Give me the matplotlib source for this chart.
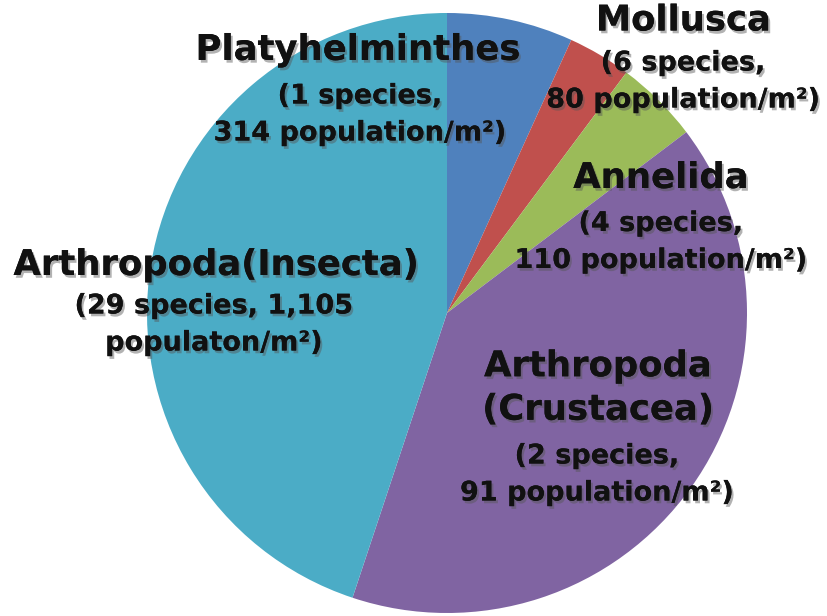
import numpy as np
import matplotlib.pyplot as plt
import matplotlib.patheffects as pe

# slice shares (percent of the circle), clockwise from 12 o'clock
phyla = ['Platyhelminthes', 'Mollusca', 'Annelida', 'Arthropoda\n(Crustacea)', 'Arthropoda(Insecta)']
shares = [6.8, 3.4, 4.5, 40.4, 44.9]
species = [1, 6, 4, 2, 29]
population = ['314', '80', '110', '91', '1,105']
colors = ['#4F81BD', '#C0504D', '#9BBB59', '#8064A2', '#4BACC6']

sub_texts = ['({0} species,\n{1} population/m\u00b2)'.format(species[i], population[i]) for i in range(4)]
sub_texts.append('({0} species, {1}\npopulaton/m\u00b2)'.format(species[4], population[4]))

"""
Label layout, in units of the pie radius (pie centred at 0,0)
"""
title_pos = [(-0.297, 0.877), (0.787, 0.975), (0.713, 0.45), (0.503, -0.25), (-0.77, 0.16)]
sub_pos = [(-0.29, 0.66), (0.787, 0.77), (0.713, 0.235), (0.5, -0.54), (-0.777, -0.04)]

fig = plt.figure(figsize=(8.27, 6.16), dpi=100)
ax = fig.add_axes([0, 0, 1, 1])
ax.pie(shares, colors=colors, startangle=90, counterclock=False, radius=1,
       wedgeprops={'linewidth': 0})
ax.set_xlim(-447/300, (827-447)/300)
ax.set_ylim((313-616)/300, 313/300)
ax.set_aspect('equal')
ax.axis('off')

shadow = [pe.withSimplePatchShadow(offset=(1.5, -2), shadow_rgbFace='#555555', alpha=0.45), pe.Normal()]
for i in range(len(phyla)):
    ax.text(title_pos[i][0], title_pos[i][1], phyla[i], ha='center', va='center',
            fontsize=25.5, fontweight='bold', color='#111111', linespacing=1.35,
            path_effects=shadow)
    ax.text(sub_pos[i][0], sub_pos[i][1], sub_texts[i], ha='center', va='center',
            fontsize=19.5, fontweight='bold', color='#111111', linespacing=1.55,
            path_effects=shadow)

plt.savefig('out.png', dpi=100)
plt.close()
